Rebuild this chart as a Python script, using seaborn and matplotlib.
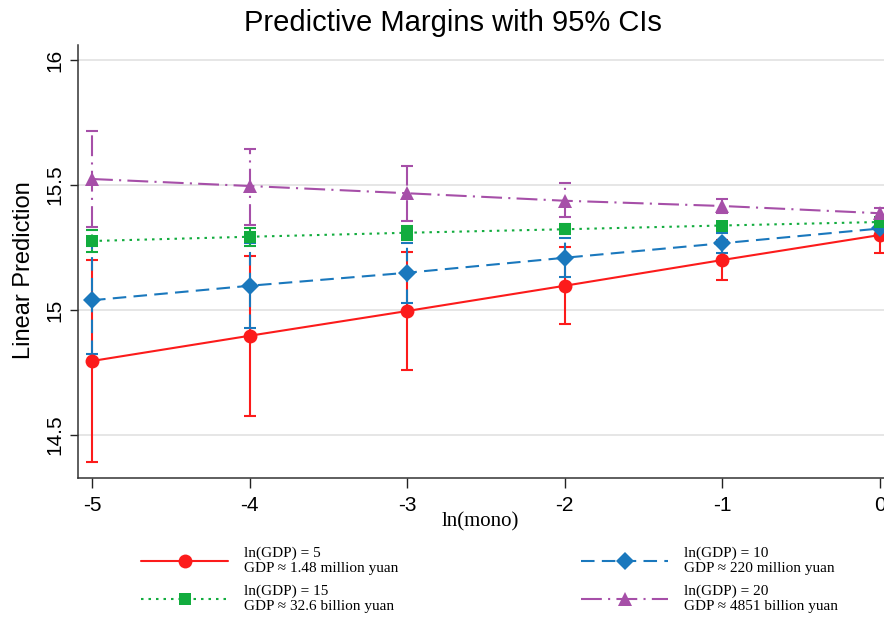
import numpy as np
import pandas as pd
import matplotlib
matplotlib.use("Agg")
import matplotlib.pyplot as plt
import seaborn as sns

# ln(mono) values on the x axis
mono = [-5, -4, -3, -2, -1, 0]

# margins and 95% CI bounds
red_mean = [14.796, 14.897, 14.996, 15.097, 15.200, 15.300]
red_lo = [14.391, 14.577, 14.760, 14.943, 15.120, 15.229]
red_hi = [15.201, 15.217, 15.232, 15.251, 15.280, 15.371]

blue_mean = [15.039, 15.097, 15.149, 15.209, 15.267, 15.326]
blue_lo = [14.824, 14.927, 15.029, 15.131, 15.227, 15.298]
blue_hi = [15.254, 15.267, 15.269, 15.287, 15.307, 15.354]

green_mean = [15.276, 15.293, 15.309, 15.323, 15.338, 15.352]
green_lo = [15.232, 15.257, 15.281, 15.303, 15.322, 15.336]
green_hi = [15.320, 15.329, 15.337, 15.343, 15.354, 15.368]

purple_mean = [15.524, 15.496, 15.467, 15.437, 15.416, 15.387]
purple_lo = [15.332, 15.341, 15.356, 15.373, 15.388, 15.367]
purple_hi = [15.715, 15.645, 15.576, 15.507, 15.443, 15.407]

labels = ["ln(GDP) = 5\nGDP \u2248 1.48 million yuan",
          "ln(GDP) = 10\nGDP \u2248 220 million yuan",
          "ln(GDP) = 15\nGDP \u2248 32.6 billion yuan",
          "ln(GDP) = 20\nGDP \u2248 4851 billion yuan"]

sns.set_theme(style="white")
plt.rcParams["font.family"] = ["Liberation Sans", "DejaVu Sans"]
plt.rcParams["text.color"] = "black"
plt.rcParams["axes.labelcolor"] = "black"

series = [
    # mean, lo, hi, color, marker, markersize, dashes
    (red_mean, red_lo, red_hi, "#fc1b1b", "o", 10, None),
    (blue_mean, blue_lo, blue_hi, "#1a78bd", "D", 9.5, (6.5, 3.5)),
    (green_mean, green_lo, green_hi, "#12ac3e", "s", 8.5, (1.2, 2.4)),
    (purple_mean, purple_lo, purple_hi, "#a64fa8", "^", 10, (10, 3, 1, 3)),
]

fig = plt.figure(figsize=(8.84, 6.21), dpi=100)
ax = fig.add_axes([78 / 884, 143 / 621, 816 / 884, 433 / 621])

# confidence intervals first, lines on top
for mean, lo, hi, color, marker, ms, dash in series:
    m = np.array(mean)
    yerr = [m - np.array(lo), np.array(hi) - m]
    eb = ax.errorbar(mono, m, yerr=yerr, fmt="none", ecolor=color,
                     elinewidth=1.5, capsize=4.3, capthick=1.5, zorder=2)
    if dash is not None:
        eb[2][0].set_linestyle((0, dash))

handles = []
for (mean, lo, hi, color, marker, ms, dash), lab in zip(series, labels):
    df = pd.DataFrame({"mono": mono, "pred": mean})
    kw = {} if dash is None else {"dashes": dash}
    sns.lineplot(data=df, x="mono", y="pred", color=color, marker=marker,
                 markersize=ms, markeredgewidth=0, linewidth=1.5,
                 errorbar=None, label=lab, ax=ax, zorder=3, **kw)
    handles.append(ax.get_lines()[-1])

ax.get_legend().remove()

ax.set_xlim(-5.089, 0.089)
ax.set_ylim(14.328, 16.06)
ax.set_xticks(mono)
ax.set_xticklabels([str(v) for v in mono])
ax.set_yticks([14.5, 15, 15.5, 16])
ax.set_yticklabels(["14.5", "15", "15.5", "16"], rotation=90, va="center")
ax.tick_params(axis="x", length=7, width=1, pad=6, labelsize=15, colors="#222222",
               labelcolor="black", bottom=True)
ax.tick_params(axis="y", length=6, width=1, pad=4, labelsize=15, colors="#222222",
               labelcolor="black", left=True)
ax.yaxis.grid(True, color="#e4e4e4", linewidth=1.3)
ax.xaxis.grid(False)
for s in ["top", "right"]:
    ax.spines[s].set_visible(False)
for s in ["left", "bottom"]:
    ax.spines[s].set_color("#333333")
    ax.spines[s].set_linewidth(1.1)

ax.set_ylabel("Linear Prediction", fontsize=17)
ax.yaxis.set_label_coords(-0.053, 0.48)
ax.set_xlabel("ln(mono)", fontsize=15, family=["Liberation Serif", "DejaVu Serif"])
ax.xaxis.set_label_coords(0.493, -0.08)

fig.suptitle("Predictive Margins with 95% CIs", x=0.512, y=0.986, va="top",
             fontsize=21, color="black")

order = [0, 2, 1, 3]
fig.legend([handles[i] for i in order], [labels[i] for i in order],
           loc="center", bbox_to_anchor=(489.5 / 884, 1 - 580 / 621), ncol=2,
           frameon=False, handlelength=5.7, handletextpad=1.0, columnspacing=12,
           labelspacing=0.62, prop={"family": ["Liberation Serif", "DejaVu Serif"], "size": 11})

fig.savefig("out.png", dpi=100)
